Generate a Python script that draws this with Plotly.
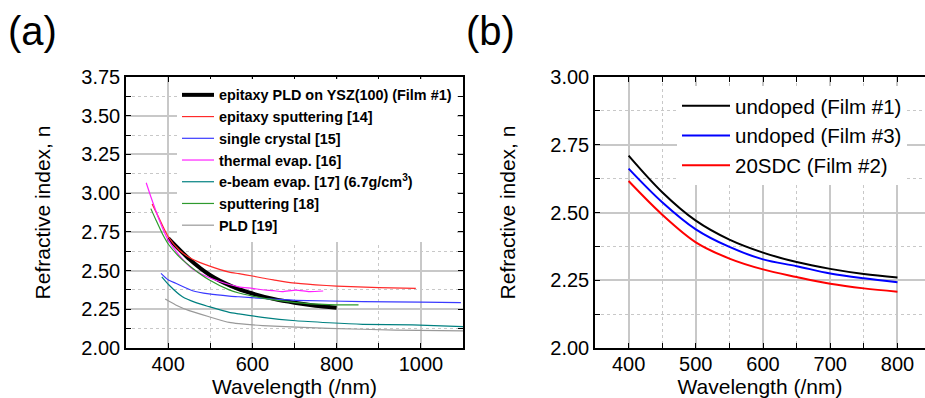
import plotly.graph_objects as go

# ---------------- Panel (a) data ----------------
film1_wl = [400, 450, 500, 550, 600, 650, 700, 750, 800]
film1_n = [2.71, 2.575, 2.47, 2.40, 2.352, 2.317, 2.292, 2.273, 2.26]

sput14_wl = [362, 380, 400, 426, 458, 497, 545, 568, 600, 624, 650, 695, 750, 800, 900, 988]
sput14_n = [2.93, 2.83, 2.72, 2.633, 2.573, 2.53, 2.49, 2.48, 2.465, 2.452, 2.44, 2.42, 2.408, 2.40, 2.39, 2.385]

crys15_wl = [383, 400, 418, 458, 497, 545, 568, 624, 703, 862, 1000, 1095]
crys15_n = [2.482, 2.44, 2.418, 2.37, 2.349, 2.335, 2.331, 2.32, 2.308, 2.30, 2.296, 2.293]

therm16_wl = [348, 359, 379, 398, 426, 458, 497, 545, 568, 600, 624, 650, 671, 703, 735, 768]
therm16_n = [3.067, 2.977, 2.827, 2.708, 2.60, 2.51, 2.455, 2.41, 2.395, 2.385, 2.376, 2.37, 2.364, 2.374, 2.364, 2.368]

ebeam17_wl = [385, 402, 434, 466, 497, 545, 568, 624, 703, 782, 862, 980, 1100]
ebeam17_n = [2.46, 2.407, 2.331, 2.293, 2.267, 2.23, 2.22, 2.198, 2.176, 2.163, 2.153, 2.149, 2.138]

sput18_wl = [359, 371, 386, 402, 426, 458, 497, 545, 568, 600, 624, 703, 782, 852]
sput18_n = [2.90, 2.827, 2.74, 2.665, 2.59, 2.515, 2.44, 2.375, 2.355, 2.335, 2.322, 2.293, 2.28, 2.278]

pld19_wl = [393, 418, 450, 497, 545, 568, 624, 782, 940, 1100]
pld19_n = [2.316, 2.278, 2.241, 2.202, 2.165, 2.157, 2.145, 2.127, 2.116, 2.11]

# ---------------- Panel (b) data ----------------
b_wl = [400, 450, 500, 550, 600, 650, 700, 750, 800]
b_film1 = [2.71, 2.575, 2.47, 2.40, 2.352, 2.317, 2.292, 2.273, 2.26]
b_film3 = [2.662, 2.538, 2.438, 2.373, 2.327, 2.302, 2.275, 2.257, 2.243]
b_film2 = [2.616, 2.492, 2.39, 2.33, 2.29, 2.262, 2.237, 2.22, 2.208]

W, H = 925, 398
FONT = "Liberation Sans, Arial, sans-serif"

fig = go.Figure()

a_series = [
    (film1_wl, film1_n, "epitaxy PLD on YSZ(100) (Film #1)", "#000000", 4),
    (sput14_wl, sput14_n, "epitaxy sputtering [14]", "#ff2a2a", 1.2),
    (crys15_wl, crys15_n, "single crystal [15]", "#3a3aff", 1.2),
    (therm16_wl, therm16_n, "thermal evap. [16]", "#ff22ff", 1.2),
    (ebeam17_wl, ebeam17_n, "e-beam evap. [17] (6.7g/cm<sup>3</sup>)", "#008080", 1.2),
    (sput18_wl, sput18_n, "sputtering [18]", "#2e9a2e", 1.2),
    (pld19_wl, pld19_n, "PLD [19]", "#999999", 1.2),
]
for x, y, name, col, w in a_series:
    fig.add_trace(go.Scatter(x=x, y=y, mode="lines", name="<b>" + name + "</b>",
                             line=dict(color=col, width=w, shape="spline", smoothing=0.6),
                             xaxis="x", yaxis="y", legend="legend"))

b_series = [
    (b_film1, "undoped (Film #1)", "#000000"),
    (b_film3, "undoped (Film #3)", "#0000ff"),
    (b_film2, "20SDC (Film #2)", "#ff0000"),
]
for y, name, col in b_series:
    fig.add_trace(go.Scatter(x=b_wl, y=y, mode="lines", name=name,
                             line=dict(color=col, width=2, shape="spline"),
                             xaxis="x2", yaxis="y2", legend="legend2"))

GRID = "#c8c8c8"


def ax(rng, dtick, mdtick, domain, anchor, mirror, title, standoff, fmt=None, lstand=0):
    d = dict(
        range=rng, domain=domain, anchor=anchor, dtick=dtick,
        showline=True, linecolor="black", linewidth=1.5, mirror=mirror,
        ticks="inside", ticklen=5, tickcolor="black", tickwidth=1.2,
        showgrid=True, gridcolor=GRID, gridwidth=1.5, zeroline=False,
        minor=dict(dtick=mdtick, ticks="inside", ticklen=5, tickcolor="black",
                   showgrid=True, gridcolor=GRID, griddash="dot", gridwidth=1),
        tickfont=dict(family=FONT, size=20, color="black"),
        ticklabelstandoff=lstand,
        title=dict(text=title, font=dict(family=FONT, size=21, color="black"), standoff=standoff),
        automargin=False, fixedrange=True,
    )
    if fmt:
        d["tickformat"] = fmt
    return d


ya_dom = [1 - 348 / H, 1 - 77 / H]
fig.update_layout(
    width=W, height=H, margin=dict(l=0, r=0, t=0, b=0),
    paper_bgcolor="white", plot_bgcolor="white",
    xaxis=ax([300, 1100], 200, 100, [126 / W, 463 / W], "y", "allticks", "Wavelength (/nm)", 10, lstand=-3),
    yaxis=ax([2, 3.75], 0.25, 0.125, ya_dom, "x", "allticks", "Refractive index, n", 25, ".2f"),
    xaxis2=ax([350, 841], 100, 50, [595 / W, 1.0], "y2", "allticks", "Wavelength (/nm)", 10, lstand=-3),
    yaxis2=ax([2, 3], 0.25, 0.125, ya_dom, "x2", False, "Refractive index, n", 29, ".2f"),
    legend=dict(x=177 / W, y=1 - 79 / H, xanchor="left", yanchor="top",
                bgcolor="white", borderwidth=0, itemwidth=32,
                font=dict(family=FONT, size=14.4, color="black"), tracegroupgap=0),
    legend2=dict(x=677 / W, y=1 - 86 / H, xanchor="left", yanchor="top",
                 bgcolor="white", borderwidth=0, itemwidth=48,
                 font=dict(family=FONT, size=20.5, color="black")),
    showlegend=True,
    annotations=[
        dict(text="(a)", x=32 / W, y=1 - 31 / H, xref="paper", yref="paper",
             xanchor="center", yanchor="middle", showarrow=False,
             font=dict(family=FONT, size=40, color="black")),
        dict(text="(b)", x=490 / W, y=1 - 31 / H, xref="paper", yref="paper",
             xanchor="center", yanchor="middle", showarrow=False,
             font=dict(family=FONT, size=40, color="black")),
    ],
)

fig.write_html("out.html")
